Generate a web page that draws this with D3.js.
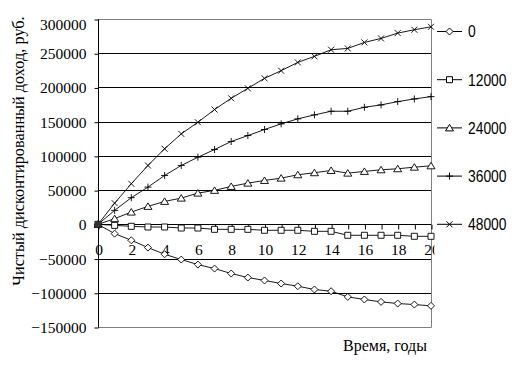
<!DOCTYPE html>
<html><head><meta charset="utf-8">
<script src="https://cdn.jsdelivr.net/npm/d3@7"></script>
<style>body{margin:0;background:#fff} svg{display:block}</style>
</head><body><svg id="c" width="513" height="365"></svg>
<script>
const years = [0,1,2,3,4,5,6,7,8,9,10,11,12,13,14,15,16,17,18,19,20];
const seriesNames = ["0","12000","24000","36000","48000"];
const s0 = [0,-13600,-23300,-34000,-43700,-51500,-58800,-64600,-71900,-77700,-82000,-86500,-90400,-95200,-97700,-106000,-109800,-113300,-115700,-117200,-119100];
const s12000 = [0,-1500,-2900,-3900,-3900,-5400,-5400,-7300,-7300,-7300,-8700,-8700,-8700,-10200,-10200,-16000,-16000,-16000,-16000,-17500,-17500];
const s24000 = [0,8300,17900,26200,33500,38300,45600,49600,55400,60200,64100,67500,72400,75400,78700,74800,77300,79700,81200,83500,85500];
const s36000 = [0,20400,38900,54400,71400,86000,98100,109300,121000,129700,138500,146800,154100,159900,165200,165200,171000,174500,179300,183200,186600];
const s48000 = [0,31000,59300,86000,110400,132200,149100,167700,184100,198700,213300,224500,236600,245400,255100,257000,265800,271600,279400,284300,288600];
const yTicks = [300000,250000,200000,150000,100000,50000,0,-50000,-100000,-150000];
const xTicks = [0,2,4,6,8,10,12,14,16,18,20];
const yTitle = "Чистый дисконтированный доход, руб.";
const xTitle = "Время, годы";

const series = [s0,s12000,s24000,s36000,s48000];
const markers = ["diamond","square","triangle","plus","cross"];

const svg = d3.select("#c");
const L=98, R=431, T=19, B=327;
const x = d3.scaleLinear().domain([0,20]).range([L,R]);
const y = d3.scaleLinear().domain([-150000,300000]).range([B,T]);

function markerPath(t,cx,cy){
  switch(t){
    case "diamond": return `M${cx},${cy-3.5}L${cx+3.5},${cy}L${cx},${cy+3.5}L${cx-3.5},${cy}Z`;
    case "square": return `M${cx-3},${cy-3}h6v6h-6Z`;
    case "triangle": return `M${cx},${cy-3.5}L${cx+4},${cy+3}L${cx-4},${cy+3}Z`;
    case "plus": return `M${cx-3.5},${cy}h7M${cx},${cy-3.5}v7`;
    case "cross": return `M${cx-3},${cy-3}L${cx+3},${cy+3}M${cx+3},${cy-3}L${cx-3},${cy+3}`;
  }
}

// gridlines
svg.append("g").selectAll("line").data(yTicks.filter(v=>v<300000 && v>-150000)).join("line")
  .attr("x1",L).attr("x2",R).attr("y1",d=>Math.round(y(d))+0.5).attr("y2",d=>Math.round(y(d))+0.5)
  .attr("stroke","#000").attr("stroke-width",1);
// frame gray top/right/bottom
svg.append("path").attr("d",`M${L},${T+0.5}H${R+0.5}V${B+0.5}H${L}`)
  .attr("fill","none").attr("stroke","#808080").attr("stroke-width",1);

// y axis
const ya = svg.append("g").attr("transform",`translate(${L+0.5},0.5)`)
  .call(d3.axisLeft(y).tickValues(yTicks).tickSize(4).tickPadding(8).tickFormat(d3.format("d")));
ya.select(".domain").attr("d",`M0,${y(300000)}V${y(-150000)}`).attr("stroke","#000");
ya.selectAll("text").attr("font-family","'Liberation Serif','Times New Roman',serif").attr("font-size","15.5px").attr("fill","#000")
  .attr("dy",d=>d===300000?"0.62em":"0.32em");

// x axis at zero
svg.append("clipPath").attr("id","xc").append("rect").attr("x",0).attr("y",0).attr("width",434).attr("height",365);
const xa = svg.append("g").attr("transform",`translate(0.5,${Math.round(y(0))+0.5})`).attr("clip-path","url(#xc)")
  .call(d3.axisBottom(x).tickValues(years).tickSize(5).tickPadding(14).tickFormat(d=>xTicks.includes(d)?d:""));
xa.select(".domain").attr("d",`M${L},0H${R}`).attr("stroke","#000");
xa.selectAll("text").attr("font-family","'Liberation Serif','Times New Roman',serif").attr("font-size","15.5px").attr("fill","#000");

// series lines
const line = d3.line().x((d,i)=>x(years[i])).y(d=>y(d));
series.forEach((s,k)=>{
  const g = svg.append("g");
  g.append("path").attr("d",line(s)).attr("fill","none").attr("stroke","#000").attr("stroke-width",0.9);
  g.selectAll("path.m").data(s).join("path").attr("class","m")
    .attr("d",(d,i)=>markerPath(markers[k],x(years[i]),y(d)))
    .attr("fill",markers[k]==="plus"||markers[k]==="cross"?"none":"#fff").attr("stroke","#000").attr("stroke-width",0.9);
});
// dense overlap at origin
svg.append("rect").attr("x",x(0)-3).attr("y",y(0)-3).attr("width",6).attr("height",6).attr("fill","#333");

// legend
const lg = svg.append("g");
seriesNames.forEach((n,k)=>{
  const ly = 31.5 + k*48.2;
  lg.append("line").attr("x1",437).attr("x2",462).attr("y1",ly).attr("y2",ly).attr("stroke","#000");
  lg.append("path").attr("d",markerPath(markers[k],449.5,ly)).attr("fill",markers[k]==="plus"||markers[k]==="cross"?"none":"#fff").attr("stroke","#000");
  lg.append("text").attr("transform",`translate(468,${ly}) scale(0.84,1)`).attr("dy","0.36em").text(n)
    .attr("font-family","'Liberation Sans',Arial,sans-serif").attr("font-size","16.5px").attr("fill","#000");
});

// titles
svg.append("text").attr("transform","translate(24,151) rotate(-90)").attr("text-anchor","middle")
  .attr("font-family","'Liberation Serif','Times New Roman',serif").attr("font-size","16.3px").text(yTitle);
svg.append("text").attr("x",385).attr("y",351).attr("text-anchor","middle")
  .attr("font-family","'Liberation Serif','Times New Roman',serif").attr("font-size","16px").text(xTitle);
</script></body></html>
